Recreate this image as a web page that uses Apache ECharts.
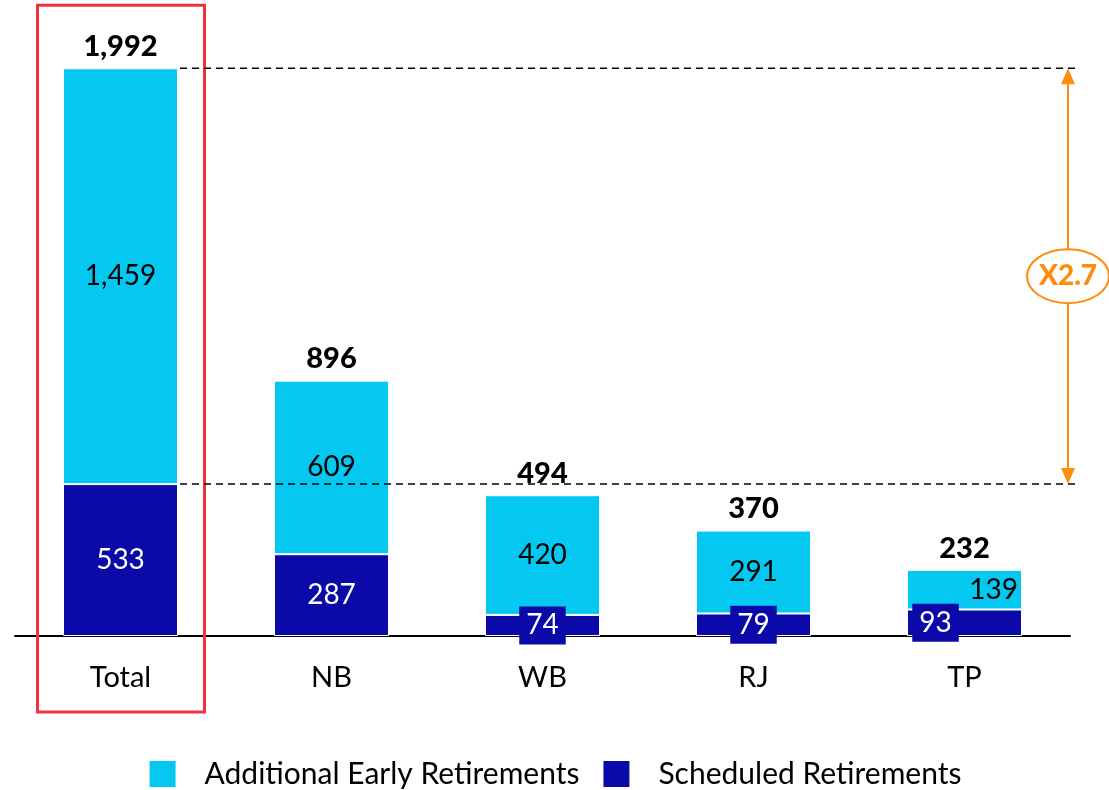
<!DOCTYPE html>
<html>
<head>
<meta charset="utf-8">
<script src="https://cdn.jsdelivr.net/npm/echarts@6/dist/echarts.min.js"></script>
<style>
html, body { margin: 0; padding: 0; background: #fff; }
#main { width: 1109px; height: 790px; }
</style>
</head>
<body>
<div id="main"></div>
<script>
// data
const categories = ['Total', 'NB', 'WB', 'RJ', 'TP'];
const scheduled = [533, 287, 74, 79, 93];
const additional = [1459, 609, 420, 291, 139];
const totals = [1992, 896, 494, 370, 232];
const ratioLabel = 'X2.7';

const CYAN = '#05c8f0';
const NAVY = '#0b0aa9';
const ORANGE = '#ff8c0a';
const FONT = 'Lato';

const fmt = v => v.toLocaleString('en-US');

const scheduledData = scheduled.map((v, i) => {
	if (v >= 100) return v;
	return {
		value: v,
		label: {
			backgroundColor: NAVY,
			padding: [5, 7],
			offset: [i === 4 ? -29 : 0, 0]
		}
	};
});
const additionalData = additional.map((v, i) => {
	if (i !== 4) return v;
	return { value: v, label: { position: 'insideRight', distance: 4 } };
});

const option = {
	backgroundColor: '#fff',
	animation: false,
	textStyle: { fontFamily: FONT },
	grid: { left: 15, right: 39, top: 66, bottom: 154 },
	legend: {
		top: 754,
		left: 'center',
		itemWidth: 28,
		itemHeight: 28,
		itemGap: 22,
		icon: 'rect',
		data: ['Additional Early Retirements', 'Scheduled Retirements'],
		textStyle: { fontSize: 30, color: '#000', fontFamily: FONT, padding: [0, 0, 0, 23] }
	},
	xAxis: {
		type: 'category',
		data: categories,
		axisLine: { lineStyle: { color: '#000', width: 2 } },
		axisTick: { show: false },
		axisLabel: { color: '#000', fontSize: 29, margin: 27, fontFamily: FONT }
	},
	yAxis: {
		type: 'value',
		min: 0,
		max: 2000,
		show: false,
		splitLine: { show: false }
	},
	series: [
		{
			name: 'Scheduled Retirements',
			type: 'bar',
			stack: 'all',
			barWidth: 115,
			itemStyle: { color: NAVY, borderColor: '#fff', borderWidth: 1 },
			label: {
				show: true,
				position: 'inside',
				color: '#fff',
				fontSize: 28,
				lineHeight: 28,
				fontFamily: FONT,
				formatter: p => fmt(p.value)
			},
			data: scheduledData
		},
		{
			name: 'Additional Early Retirements',
			type: 'bar',
			stack: 'all',
			barWidth: 115,
			itemStyle: { color: CYAN, borderColor: '#fff', borderWidth: 1 },
			label: {
				show: true,
				position: 'inside',
				color: '#000',
				fontSize: 28,
				fontFamily: FONT,
				formatter: p => fmt(p.value)
			},
			data: additionalData
		},
		{
			// zero-height cap that carries the bold total above each column
			name: 'total',
			type: 'bar',
			stack: 'all',
			barWidth: 115,
			itemStyle: { color: 'transparent' },
			label: {
				show: true,
				position: 'top',
				distance: 7,
				color: '#000',
				fontSize: 29,
				fontWeight: 900,
				fontFamily: FONT,
				formatter: p => fmt(totals[p.dataIndex])
			},
			data: totals.map(() => 0)
		}
	]
};

const chart = echarts.init(document.getElementById('main'));
chart.setOption(option);

// overlay: highlight box, dashed guides and ratio arrow
const pTop = chart.convertToPixel({ gridIndex: 0 }, ['Total', totals[0]]);
const pMid = chart.convertToPixel({ gridIndex: 0 }, ['Total', scheduled[0]]);
const pBase = chart.convertToPixel({ gridIndex: 0 }, ['Total', 0]);
const gridRight = 1109 - 39;
const barHalf = 57.5;
const arrowX = gridRight - 2;
const midY = (pTop[1] + pMid[1]) / 2;

chart.setOption({
	graphic: [
		{
			type: 'rect',
			z: 100,
			shape: { x: pTop[0] - 83, y: pTop[1] - 63, width: 167, height: pBase[1] + 76 - (pTop[1] - 63) },
			style: { fill: 'none', stroke: '#f0323f', lineWidth: 3 }
		},
		{
			type: 'line',
			z: 100,
			shape: { x1: pTop[0] + barHalf + 2, y1: pTop[1], x2: gridRight + 5, y2: pTop[1] },
			style: { stroke: '#000', lineWidth: 1.5, lineDash: [7, 5] }
		},
		{
			type: 'line',
			z: 100,
			shape: { x1: pMid[0] + barHalf + 2, y1: pMid[1], x2: gridRight + 5, y2: pMid[1] },
			style: { stroke: '#000', lineWidth: 1.5, lineDash: [7, 5] }
		},
		{
			type: 'line',
			z: 100,
			shape: { x1: arrowX, y1: pTop[1] + 14, x2: arrowX, y2: pMid[1] - 14 },
			style: { stroke: ORANGE, lineWidth: 2 }
		},
		{
			type: 'polygon',
			z: 100,
			shape: { points: [[arrowX, pTop[1]], [arrowX - 7, pTop[1] + 16], [arrowX + 7, pTop[1] + 16]] },
			style: { fill: ORANGE }
		},
		{
			type: 'polygon',
			z: 100,
			shape: { points: [[arrowX, pMid[1]], [arrowX - 7, pMid[1] - 16], [arrowX + 7, pMid[1] - 16]] },
			style: { fill: ORANGE }
		},
		{
			type: 'ellipse',
			z: 101,
			shape: { cx: arrowX, cy: midY, rx: 41, ry: 27 },
			style: { fill: '#fff', stroke: ORANGE, lineWidth: 2 }
		},
		{
			type: 'text',
			z: 102,
			x: arrowX,
			y: midY,
			style: {
				text: ratioLabel,
				fill: ORANGE,
				font: '900 28px ' + FONT,
				align: 'center',
				verticalAlign: 'middle'
			}
		}
	]
});
</script>
</body>
</html>
